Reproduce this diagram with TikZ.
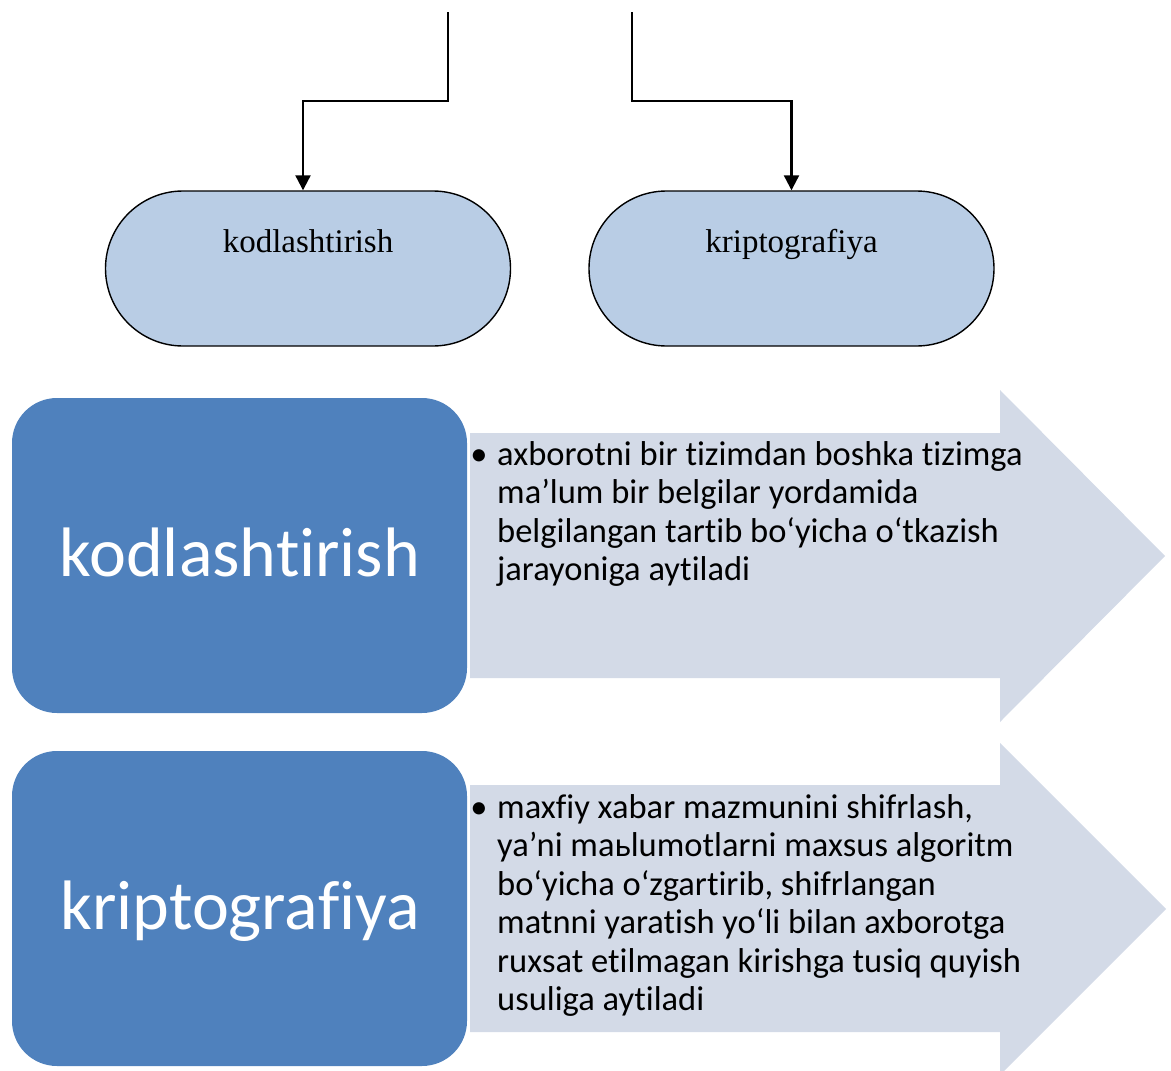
\documentclass[tikz,border=0pt]{standalone}
\usepackage{fontspec}
\setmainfont{Liberation Serif}
\newfontfamily\calibri[Ligatures={NoCommon,NoRequired,NoContextual}]{Carlito}
\usetikzlibrary{arrows.meta,calc,shapes.misc}
\definecolor{stadfill}{HTML}{B9CDE5}
\definecolor{boxblue}{HTML}{4F81BD}
\definecolor{arrowfill}{HTML}{D3DAE7}

\begin{document}
\begin{tikzpicture}[x=1pt,y=-1pt,
  stadium/.style={rounded rectangle,draw=black,line width=1.4pt,fill=stadfill,
    minimum width=405pt,minimum height=155pt,inner sep=0pt},
  stadlabel/.style={anchor=base,inner sep=0pt,font=\fontsize{33}{40}\selectfont},
  conn/.style={draw=black,line width=2.2pt,-{Triangle[width=15pt,length=15pt]}},
  termbox/.style={fill=boxblue,rounded corners=45pt},
  termlabel/.style={anchor=base,inner sep=0pt,text=white,font=\calibri\fontsize{70}{84}\selectfont},
  bigarrow/.style={fill=arrowfill},
  desc/.style={anchor=base west,align=left,inner sep=0pt,font=\calibri\fontsize{34.5}{38.5}\selectfont},
  dot/.style={anchor=base,inner sep=0pt,font=\calibri\fontsize{34.5}{38.5}\selectfont}
]
\clip (0,0) rectangle (1171,1071);
\useasboundingbox (0,0) rectangle (1171,1071);

% upper flow: two terminals fed from above
\coordinate (s1) at (448,12);
\coordinate (s2) at (632,12);
\node[stadium] (k1) at (308,268.5) {};
\node[stadium] (k2) at (791.5,268.5) {};
\node[stadlabel] (k1t) at (308,252) {kodlashtirish};
\node[stadlabel] (k2t) at (791.5,252) {kriptografiya};
\draw[conn] (s1) -- (448,101) -| ($(k1.north)+(-5,0)$);
\draw[conn] (s2) -- (632,101) -| (k2.north);

% lower part: term boxes with definition arrows
\fill[bigarrow] (470,433) -- (1000,433) -- (1000,390) -- (1165,556)
  -- (1000,722) -- (1000,678) -- (470,678) -- cycle;
\fill[bigarrow] (470,785) -- (1000,785) -- (1000,743) -- (1166,909)
  -- (1000,1075) -- (1000,1032) -- (470,1032) -- cycle;

\fill[termbox] (12,398) rectangle (467,713);
\fill[termbox] (12,751) rectangle (467,1066);
\node[termlabel] (t1) at (240,576) {kodlashtirish};
\node[termlabel] (t2) at (240,929) {kriptografiya};

% definitions: the anchor sits on the baseline of the last line
\node[dot] (b1) at (479,465) {•};
\node[desc] (d1) at (497,580.5) {axborotni bir tizimdan boshka tizimga\\
ma’lum bir belgilar yordamida\\
belgilangan tartib bo‘yicha o‘tkazish\\
jarayoniga aytiladi};

\node[dot] (b2) at (479,818) {•};
\node[desc] (d2) at (497,1010.5) {maxfiy xabar mazmunini shifrlash,\\
ya’ni maьlumotlarni maxsus algoritm\\
bo‘yicha o‘zgartirib, shifrlangan\\
matnni yaratish yo‘li bilan axborotga\\
ruxsat etilmagan kirishga tusiq quyish\\
usuliga aytiladi};
\end{tikzpicture}
\end{document}
